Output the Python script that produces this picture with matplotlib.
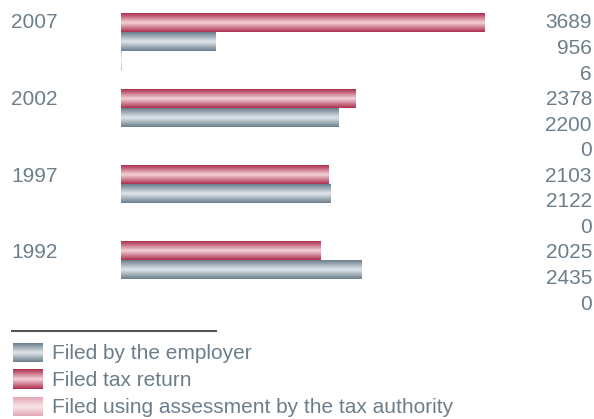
import numpy as np
import matplotlib
matplotlib.use("Agg")
import matplotlib.pyplot as plt
from matplotlib.colors import LinearSegmentedColormap

years = ["2007", "2002", "1997", "1992"]
tax_return = [3689, 2378, 2103, 2025]
employer = [956, 2200, 2122, 2435]
assessment = [6, 0, 0, 0]
series_names = ["Filed by the employer", "Filed tax return",
                "Filed using assessment by the tax authority"]

W, H = 594, 419
txt_col = "#6d7d8a"
font = dict(family=["Liberation Sans", "DejaVu Sans"], fontweight="normal")
fs = 15.0

red_cm = LinearSegmentedColormap.from_list("r", ["#ad2f4e", "#f3d3da", "#ad2f4e"])
blue_cm = LinearSegmentedColormap.from_list("b", ["#6c7e8c", "#e0e7eb", "#6c7e8c"])
pink_cm = LinearSegmentedColormap.from_list("p", ["#e3a6b4", "#f8e6ea", "#e3a6b4"])
grad = np.linspace(0, 1, 64).reshape(-1, 1)

fig = plt.figure(figsize=(W / 100, H / 100), dpi=100)

# main bar axes, pixel box: x 121..485, y 13..317
ax = fig.add_axes([121 / W, 1 - 317 / H, 364 / W, 304 / H])
ax.set_xlim(0, 3689)
ax.set_ylim(16, 0)
ax.axis("off")

for i in range(len(years)):
    y0 = 4 * i
    for j, (vals, cm) in enumerate([(tax_return, red_cm), (employer, blue_cm), (assessment, pink_cm)]):
        b = ax.barh(y0 + j + 0.5, vals[i], height=1.0, left=0, color="none", linewidth=0)[0]
        if vals[i] > 0:
            im = ax.imshow(grad, extent=[0, vals[i], y0 + j + 1, y0 + j], aspect="auto",
                           cmap=cm, interpolation="bilinear")
            im.set_clip_path(b)
ax.set_xlim(0, 3689)
ax.set_ylim(16, 0)

# overlay axes in pixel coordinates for labels and legend
ov = fig.add_axes([0, 0, 1, 1])
ov.set_xlim(0, W)
ov.set_ylim(H, 0)
ov.axis("off")

values = []
for i in range(len(years)):
    values += [tax_return[i], employer[i], assessment[i]]
for k, v in enumerate(values):
    ov.text(592, 23 + 25.55 * k, str(v), ha="right", va="center", fontsize=fs, color=txt_col, **font)
for i, yr in enumerate(years):
    ov.text(11, 23 + 25.55 * 3 * i, yr, ha="left", va="center", fontsize=fs, color=txt_col, **font)

ov.plot([11, 217], [331, 331], color="#555555", linewidth=1.5, solid_capstyle="butt")
for k, (name, cm) in enumerate(zip(series_names, [blue_cm, red_cm, pink_cm])):
    top = 343 + 27 * k
    ov.imshow(grad, extent=[13, 43, top + 19, top], aspect="auto", cmap=cm, interpolation="bilinear")
    ov.text(52, top + 10, name, ha="left", va="center", fontsize=fs, color=txt_col, **font)
ov.set_xlim(0, W)
ov.set_ylim(H, 0)

fig.savefig("out.png", dpi=100)
